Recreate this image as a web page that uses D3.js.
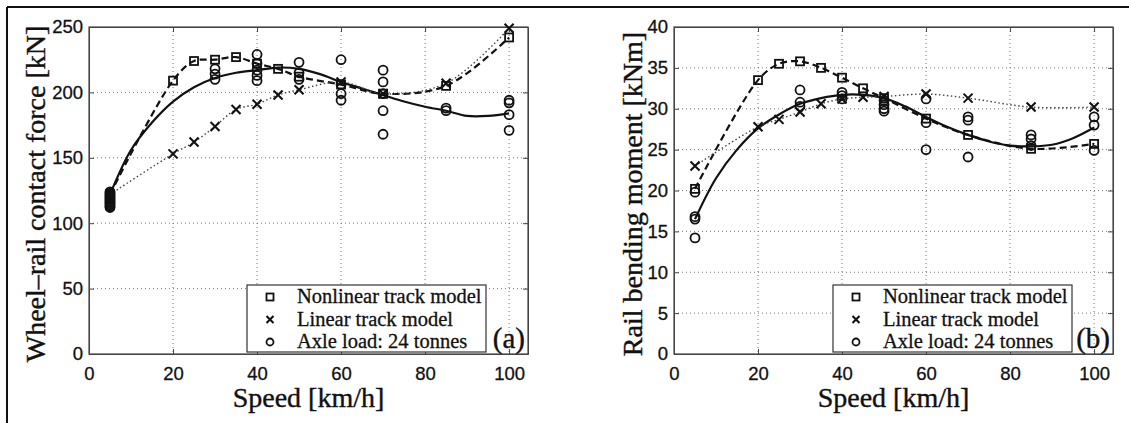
<!DOCTYPE html>
<html>
<head>
<meta charset="utf-8">
<script src="https://cdn.jsdelivr.net/npm/d3@7"></script>
<style>
  body { margin: 0; background: #fff; }
  svg { display: block; }
</style>
</head>
<body>
<svg id="chart" width="1129" height="423"></svg>
<script>
// data
var speeds = [5, 20, 25, 30, 35, 40, 45, 50, 60, 70, 85, 100];
var fitSpeeds = [5, 10, 15, 20, 25, 30, 35, 40, 45, 50, 55, 60, 65, 70, 75, 80, 85, 90, 95, 100];

// (a) wheel-rail contact force [kN]
var nonlinearA = [122, 209, 224, 225, 227, 222, 218, 212, 206, 199, 205, 242];
var linearA = [122, 153, 162, 174, 187, 191, 198, 202, 208, 199, 207, 249];
var axleA = [
  [5, 112], [5, 113], [5, 114], [5, 115], [5, 116], [5, 117], [5, 118], [5, 119],
  [5, 120], [5, 121], [5, 122], [5, 123], [5, 124],
  [30, 210], [30, 214], [30, 218],
  [40, 209], [40, 213], [40, 217], [40, 222], [40, 229],
  [50, 210], [50, 215], [50, 223],
  [60, 194], [60, 199], [60, 206], [60, 225],
  [70, 168], [70, 186], [70, 199], [70, 208], [70, 217],
  [85, 186], [85, 188],
  [100, 171], [100, 183], [100, 192], [100, 194]
];
var fitA = [122, 156, 177, 193, 204, 211, 215, 217, 219, 218, 214, 208, 203, 198, 193, 189, 186, 182, 182, 184];

// (b) rail bending moment [kNm]
var nonlinearB = [20.2, 33.5, 35.5, 35.8, 35.0, 33.8, 32.5, 31.3, 28.8, 26.8, 25.1, 25.7];
var linearB = [23.0, 27.8, 28.7, 29.6, 30.6, 31.2, 31.4, 31.5, 31.8, 31.3, 30.2, 30.2];
var axleB = [
  [5, 14.2], [5, 16.5], [5, 16.8], [5, 19.8],
  [30, 30.3], [30, 30.8], [30, 32.3],
  [40, 31.2], [40, 31.6], [40, 32.0],
  [50, 29.7], [50, 30.0], [50, 30.5], [50, 31.0],
  [60, 25.0], [60, 28.3], [60, 31.2],
  [70, 24.1], [70, 28.6], [70, 29.0],
  [85, 25.5], [85, 26.3], [85, 26.8],
  [100, 24.9], [100, 28.0], [100, 29.0]
];
var fitB = [16.5, 21.5, 25.0, 27.6, 29.3, 30.6, 31.3, 31.7, 31.7, 31.3, 30.3, 29.0, 27.8, 26.8, 26.0, 25.5, 25.4, 25.6, 26.4, 27.7];

var xTicks = [0, 20, 40, 60, 80, 100];
var yTicksA = [0, 50, 100, 150, 200, 250];
var yTicksB = [0, 5, 10, 15, 20, 25, 30, 35, 40];
var legendLabels = ["Nonlinear track model", "Linear track model", "Axle load: 24 tonnes"];

var svg = d3.select("#chart");
var serif = "'Liberation Serif', 'Times New Roman', serif";
var sans = "'Liberation Sans', Arial, sans-serif";

// outer frame (top and left edges only)
svg.append("line").attr("x1", 7).attr("x2", 1129).attr("y1", 7).attr("y2", 7)
  .attr("stroke", "#111").attr("stroke-width", 2);
svg.append("line").attr("x1", 7).attr("x2", 7).attr("y1", 7).attr("y2", 423)
  .attr("stroke", "#111").attr("stroke-width", 2);

function symbol(g, kind, x, y, s, w) {
  w = w || 1.8;
  if (kind == "square") {
    g.append("rect").attr("x", x - s / 2).attr("y", y - s / 2)
      .attr("width", s).attr("height", s)
      .attr("fill", "none").attr("stroke", "#111").attr("stroke-width", w);
  } else if (kind == "cross") {
    g.append("path")
      .attr("d", "M" + (x - s / 2) + "," + (y - s / 2) + "L" + (x + s / 2) + "," + (y + s / 2) +
        "M" + (x - s / 2) + "," + (y + s / 2) + "L" + (x + s / 2) + "," + (y - s / 2))
      .attr("stroke", "#111").attr("stroke-width", w + 0.3).attr("fill", "none");
  } else {
    g.append("circle").attr("cx", x).attr("cy", y).attr("r", s / 2)
      .attr("fill", "none").attr("stroke", "#111").attr("stroke-width", w);
  }
}

function drawPanel(p) {
  var left = p.left, right = p.left + 439, top = 27, bottom = 354;
  var x = d3.scaleLinear().domain([0, 104.5]).range([left, right]);
  var y = d3.scaleLinear().domain(p.yDomain).range([bottom, top]);
  var g = svg.append("g");

  // grid
  g.selectAll(".vg").data(xTicks.slice(1)).enter().append("line")
    .attr("x1", d => x(d)).attr("x2", d => x(d)).attr("y1", top).attr("y2", bottom)
    .attr("stroke", "#777").attr("stroke-width", 1).attr("stroke-dasharray", "1,3");
  g.selectAll(".hg").data(p.yTicks.slice(1, -1)).enter().append("line")
    .attr("x1", left).attr("x2", right).attr("y1", d => y(d)).attr("y2", d => y(d))
    .attr("stroke", "#777").attr("stroke-width", 1).attr("stroke-dasharray", "1,3");

  // box
  g.append("rect").attr("x", left).attr("y", top).attr("width", right - left).attr("height", bottom - top)
    .attr("fill", "none").attr("stroke", "#444").attr("stroke-width", 1.2);

  // axes with inward ticks
  var xa = g.append("g").attr("transform", "translate(0," + bottom + ")")
    .call(d3.axisBottom(x).tickValues(xTicks).tickSizeInner(-5).tickSizeOuter(0).tickPadding(9));
  g.append("g").attr("transform", "translate(" + left + ",0)")
    .call(d3.axisLeft(y).tickValues(p.yTicks).tickSizeInner(-5).tickSizeOuter(0).tickPadding(6));
  g.append("g").attr("transform", "translate(0," + top + ")")
    .call(d3.axisTop(x).tickValues(xTicks).tickSizeInner(-5).tickSizeOuter(0).tickFormat(""));
  g.append("g").attr("transform", "translate(" + right + ",0)")
    .call(d3.axisRight(y).tickValues(p.yTicks).tickSizeInner(-5).tickSizeOuter(0).tickFormat(""));
  g.selectAll(".domain").attr("stroke", "#444");
  g.selectAll(".tick line").attr("stroke", "#444");
  g.selectAll(".tick text").attr("font-family", sans).attr("font-size", 18.5).attr("fill", "#111")
    .attr("stroke", "#111").attr("stroke-width", 0.3);
  xa.selectAll(".tick text").attr("dy", "0.9em");

  // model lines
  var line = d3.line().x(d => x(d[0])).y(d => y(d[1])).curve(d3.curveCatmullRom);
  g.append("path").datum(fitSpeeds.map((s, i) => [s, p.fit[i]])).attr("d", line)
    .attr("fill", "none").attr("stroke", "#111").attr("stroke-width", 2.2);
  g.append("path").datum(speeds.map((s, i) => [s, p.nonlinear[i]])).attr("d", line)
    .attr("fill", "none").attr("stroke", "#111").attr("stroke-width", 2.2).attr("stroke-dasharray", "7,4");
  g.append("path").datum(speeds.map((s, i) => [s, p.linear[i]])).attr("d", line)
    .attr("fill", "none").attr("stroke", "#444").attr("stroke-width", 1.4).attr("stroke-dasharray", "1.5,2.5");

  // markers
  speeds.forEach((s, i) => symbol(g, "square", x(s), y(p.nonlinear[i]), 8));
  speeds.forEach((s, i) => symbol(g, "cross", x(s), y(p.linear[i]), 9));
  p.axle.forEach(d => symbol(g, "circle", x(d[0]), y(d[1]), 9));

  // legend
  var lx = p.legendX, ly = 285;
  g.append("rect").attr("x", lx).attr("y", ly).attr("width", 239).attr("height", 67)
    .attr("fill", "#fff").attr("stroke", "#333").attr("stroke-width", 1.2);
  ["square", "cross", "circle"].forEach((k, i) => {
    var cy = ly + 12 + i * 22.5;
    symbol(g, k, lx + 23, cy, 7, 1.8);
    g.append("text").attr("x", lx + 50).attr("y", cy + 6).text(legendLabels[i])
      .attr("font-family", serif).attr("font-size", 20.5).attr("fill", "#111")
      .attr("stroke", "#111").attr("stroke-width", 0.3);
  });

  g.append("text").attr("x", right - 3).attr("y", 348).attr("text-anchor", "end")
    .text(p.tag).attr("font-family", serif).attr("font-size", 29).attr("fill", "#111")
    .attr("stroke", "#111").attr("stroke-width", 0.4);

  // axis titles
  g.append("text").attr("x", (left + right) / 2).attr("y", 407).attr("text-anchor", "middle")
    .text("Speed [km/h]").attr("font-family", serif).attr("font-size", 28).attr("fill", "#111")
    .attr("stroke", "#111").attr("stroke-width", 0.4);
  g.append("text").attr("transform", "translate(" + p.titleX + "," + 194 + ") rotate(-90)")
    .attr("text-anchor", "middle").text(p.yTitle)
    .attr("font-family", serif).attr("font-size", 28).attr("fill", "#111")
    .attr("stroke", "#111").attr("stroke-width", 0.4);
}

drawPanel({
  left: 89, yDomain: [0, 250], yTicks: yTicksA,
  nonlinear: nonlinearA, linear: linearA, axle: axleA, fit: fitA,
  legendX: 247, tag: "(a)", titleX: 45, yTitle: "Wheel\u2013rail contact force [kN]"
});
drawPanel({
  left: 674, yDomain: [0, 40], yTicks: yTicksB,
  nonlinear: nonlinearB, linear: linearB, axle: axleB, fit: fitB,
  legendX: 833, tag: "(b)", titleX: 642, yTitle: "Rail bending moment [kNm]"
});
</script>
</body>
</html>
